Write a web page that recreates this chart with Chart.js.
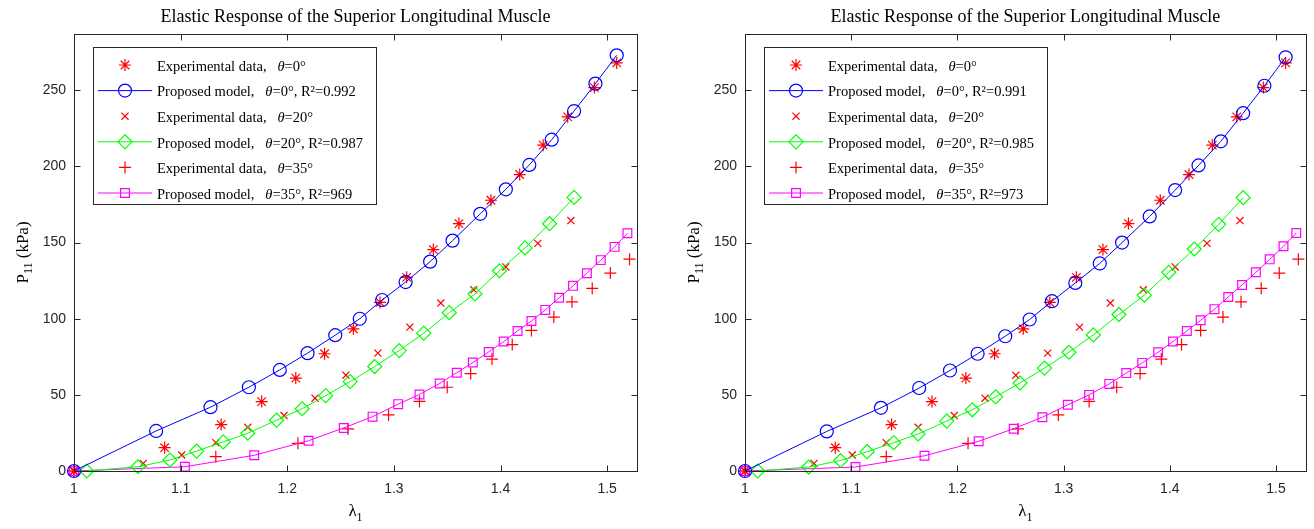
<!DOCTYPE html>
<html>
<head>
<meta charset="utf-8">
<title>Elastic Response of the Superior Longitudinal Muscle</title>
<script src="https://cdn.jsdelivr.net/npm/chart.js@4.4.0/dist/chart.umd.min.js"></script>
<style>
  html, body { margin: 0; padding: 0; background: #fff; }
  #wrap { position: relative; width: 1314px; height: 529px; }
  .panel { position: absolute; top: 0; height: 529px; }
</style>
</head>
<body>
<div id="wrap">
  <div class="panel" style="left:0;width:671px"><canvas id="chartLeft"></canvas></div>
  <div class="panel" style="left:671px;width:643px"><canvas id="chartRight"></canvas></div>
</div>
<script>
// dati: stiramento lambda_1 e tensione P_11 (kPa)
const TITLE = 'Elastic Response of the Superior Longitudinal Muscle';

// dati sperimentali (uguali nei due pannelli)
const lambdaExp0 = [1, 1.085, 1.138, 1.176, 1.208, 1.235, 1.262, 1.287, 1.312, 1.337, 1.361, 1.391, 1.418, 1.44, 1.463, 1.488, 1.509];
const pExp0 = [0, 15.3, 30.5, 45.6, 61, 77, 93.4, 110.7, 127.2, 145.4, 162.5, 177.8, 194.7, 214, 232.6, 251.8, 268];
const lambdaExp20 = [1, 1.065, 1.101, 1.133, 1.163, 1.197, 1.226, 1.255, 1.285, 1.315, 1.344, 1.375, 1.405, 1.435, 1.466];
const pExp20 = [0, 5, 10.5, 18.6, 28.7, 36.4, 47.8, 62.9, 77.4, 94.5, 110.3, 119, 134, 149.5, 164.5];
const lambdaExp35 = [1, 1.133, 1.21, 1.257, 1.295, 1.324, 1.35, 1.372, 1.392, 1.411, 1.429, 1.45, 1.467, 1.486, 1.503, 1.521];
const pExp35 = [0, 9.4, 18.2, 27.6, 36.8, 45.7, 55, 64, 73.5, 83, 92.3, 101.1, 111.1, 120, 130, 139.1];

// modello proposto
const lambdaMod0 = [1, 1.077, 1.128, 1.164, 1.193, 1.219, 1.245, 1.268, 1.289, 1.311, 1.334, 1.355, 1.381, 1.405, 1.427, 1.448, 1.469, 1.489, 1.509];
const pMod0Left = [0, 26.3, 41.9, 55, 66.4, 77.4, 89.2, 100, 112.3, 124.1, 137.5, 151.3, 168.9, 185, 201, 217.6, 236.4, 254.4, 273];
const pMod0Right = [0, 26, 41.5, 54.5, 66, 77, 88.5, 99.5, 111.5, 123.5, 136.3, 150, 167.2, 184.5, 200.7, 216.5, 235, 253, 271.7];
const lambdaMod20 = [1.012, 1.06, 1.09, 1.115, 1.14, 1.163, 1.19, 1.214, 1.236, 1.259, 1.282, 1.305, 1.328, 1.352, 1.376, 1.399, 1.423, 1.446, 1.469];
const pMod20Left = [0, 2.8, 7.2, 13.1, 19.1, 24.8, 33.4, 40.9, 49.5, 58.7, 68.6, 79.1, 90.5, 104, 116.3, 131.5, 146.5, 162.4, 179.7];
const pMod20Right = [0, 2.6, 6.9, 12.7, 18.6, 24.3, 32.8, 40.2, 48.7, 57.8, 67.6, 78, 89.4, 102.8, 115.5, 130.5, 145.8, 162, 179.5];
const lambdaMod35 = [1, 1.104, 1.169, 1.22, 1.253, 1.28, 1.304, 1.324, 1.343, 1.359, 1.374, 1.389, 1.403, 1.416, 1.429, 1.442, 1.455, 1.468, 1.481, 1.494, 1.507, 1.519];
const pMod35Left = [0, 2.8, 10.3, 19.9, 28.3, 35.7, 43.9, 50.3, 57.5, 64.5, 71.2, 78.2, 85, 92, 98.5, 105.8, 113.8, 121.6, 129.9, 138.5, 147.2, 156.1];
const pMod35Right = [0, 2.6, 10, 19.5, 27.8, 35.3, 43.5, 50, 57.2, 64.3, 71, 78, 85, 92, 99, 106.3, 114.3, 122.2, 130.5, 139, 147.6, 156.3];

// assi e legenda
const xTicks = [1, 1.1, 1.2, 1.3, 1.4, 1.5];
const yTicks = [0, 50, 100, 150, 200, 250];
const legendLeft = ['Experimental data,   θ=0°', 'Proposed model,   θ=0°, R²=0.992', 'Experimental data,   θ=20°',
                    'Proposed model,   θ=20°, R²=0.987', 'Experimental data,   θ=35°', 'Proposed model,   θ=35°, R²=969'];
const legendRight = ['Experimental data,   θ=0°', 'Proposed model,   θ=0°, R²=0.991', 'Experimental data,   θ=20°',
                     'Proposed model,   θ=20°, R²=0.985', 'Experimental data,   θ=35°', 'Proposed model,   θ=35°, R²=973'];

const AXIS_COLOR = '#262626';
const SERIF = '"Liberation Serif", "Times New Roman", serif';
const SANS = '"Liberation Sans", Arial, sans-serif';

function zip(xs, ys) {
    return xs.map((x, i) => ({ x: x, y: ys[i] }));
}

function makeDatasets(labels, mod0, mod20, mod35) {
    const exp = (label, xs, ys, style, r) => ({
        label: label, data: zip(xs, ys), showLine: false, pointStyle: style, pointRadius: r,
        borderColor: '#ff0000', backgroundColor: 'rgba(0,0,0,0)', pointBorderWidth: 1.2, clip: false, order: 2
    });
    const mod = (label, xs, ys, color, style, r) => ({
        label: label, data: zip(xs, ys), showLine: true, borderWidth: 1, tension: 0, pointStyle: style, pointRadius: r,
        borderColor: color, pointBorderColor: color, backgroundColor: 'rgba(0,0,0,0)', pointBackgroundColor: 'rgba(0,0,0,0)',
        pointBorderWidth: 1.2, clip: false, order: 1
    });
    return [
        exp(labels[0], lambdaExp0, pExp0, 'star', 6),
        mod(labels[1], lambdaMod0, mod0, '#0000ff', 'circle', 6.5),
        exp(labels[2], lambdaExp20, pExp20, 'crossRot', 5),
        mod(labels[3], lambdaMod20, mod20, '#00ff00', 'rectRot', 7),
        exp(labels[4], lambdaExp35, pExp35, 'cross', 6),
        mod(labels[5], lambdaMod35, mod35, '#ff00ff', 'rect', 6.2)
    ];
}

// cornice stile Matlab con tacche verso l'interno
const frame = {
    id: 'frame',
    afterDatasetsDraw(chart) {
        const ctx = chart.ctx, a = chart.chartArea, xs = chart.scales.x, ys = chart.scales.y;
        const L = Math.round(a.left) + 0.5, R = Math.round(a.right) + 0.5;
        const T = Math.round(a.top) + 0.5, B = Math.round(a.bottom) + 0.5;
        ctx.save();
        ctx.strokeStyle = AXIS_COLOR;
        ctx.lineWidth = 1;
        ctx.strokeRect(L, T, R - L, B - T);
        ctx.beginPath();
        xTicks.forEach(v => {
            const px = Math.round(xs.getPixelForValue(v)) + 0.5;
            ctx.moveTo(px, B); ctx.lineTo(px, B - 6);
            ctx.moveTo(px, T); ctx.lineTo(px, T + 6);
        });
        yTicks.forEach(v => {
            const py = Math.round(ys.getPixelForValue(v)) + 0.5;
            ctx.moveTo(L, py); ctx.lineTo(L + 6, py);
            ctx.moveTo(R, py); ctx.lineTo(R - 6, py);
        });
        ctx.stroke();
        ctx.restore();
    }
};

// testo con theta in corsivo
function drawRich(ctx, text, x, y, size) {
    const parts = text.split('θ');
    let cx = x;
    parts.forEach((p, i) => {
        if (i > 0) {
            ctx.font = 'italic ' + size + 'px ' + SERIF;
            ctx.fillText('θ', cx, y);
            cx += ctx.measureText('θ').width;
        }
        ctx.font = size + 'px ' + SERIF;
        ctx.fillText(p, cx, y);
        cx += ctx.measureText(p).width;
    });
}

// legenda, etichette degli assi
const extras = {
    id: 'extras',
    afterDraw(chart) {
        const ctx = chart.ctx, a = chart.chartArea;
        ctx.save();
        // legenda
        const bx = a.left + 19, by = a.top + 13, bw = 283, bh = 157;
        ctx.fillStyle = '#fff';
        ctx.fillRect(bx, by, bw, bh);
        ctx.strokeStyle = AXIS_COLOR;
        ctx.lineWidth = 1;
        ctx.strokeRect(Math.round(bx) + 0.5, Math.round(by) + 0.5, bw, bh);
        chart.data.datasets.forEach((ds, i) => {
            const ry = by + 18 + i * 25.6;
            const mx = bx + 32;
            ctx.strokeStyle = ds.borderColor;
            if (ds.showLine) {
                ctx.lineWidth = 1;
                ctx.beginPath();
                ctx.moveTo(bx + 5, ry); ctx.lineTo(bx + 59, ry);
                ctx.stroke();
            }
            ctx.lineWidth = 1.2;
            ctx.fillStyle = 'rgba(0,0,0,0)';
            Chart.helpers.drawPoint(ctx, { pointStyle: ds.pointStyle, radius: ds.pointRadius, rotation: 0, borderWidth: 1.2 }, mx, ry);
            ctx.fillStyle = '#000';
            ctx.textBaseline = 'middle';
            ctx.textAlign = 'left';
            drawRich(ctx, ds.label, bx + 64, ry + 2, 14.5);
        });
        // asse y: P_11 (kPa)
        ctx.fillStyle = '#000';
        ctx.save();
        ctx.translate(a.left - 50, (a.top + a.bottom) / 2);
        ctx.rotate(-Math.PI / 2);
        ctx.textBaseline = 'middle';
        ctx.textAlign = 'left';
        ctx.font = '17px ' + SERIF;
        const wP = ctx.measureText('P').width;
        ctx.font = '12px ' + SERIF;
        const w11 = ctx.measureText('11').width;
        ctx.font = '17px ' + SERIF;
        const wRest = ctx.measureText(' (kPa)').width;
        let sx = -(wP + w11 + wRest) / 2;
        ctx.fillText('P', sx, 0);
        sx += wP;
        ctx.font = '12px ' + SERIF;
        ctx.fillText('11', sx, 5);
        sx += w11;
        ctx.font = '17px ' + SERIF;
        ctx.fillText(' (kPa)', sx, 0);
        ctx.restore();
        // asse x: lambda_1
        ctx.textBaseline = 'middle';
        ctx.textAlign = 'left';
        ctx.font = '17px ' + SERIF;
        const wl = ctx.measureText('λ').width;
        ctx.font = '12px ' + SERIF;
        const w1 = ctx.measureText('1').width;
        const lx = (a.left + a.right) / 2 - (wl + w1) / 2;
        ctx.font = '17px ' + SERIF;
        ctx.fillText('λ', lx, a.bottom + 41);
        ctx.font = '12px ' + SERIF;
        ctx.fillText('1', lx + wl, a.bottom + 47);
        ctx.restore();
    }
};

function makeChart(id, labels, mod0, mod20, mod35, padRight) {
    const ctx = document.getElementById(id).getContext('2d');
    return new Chart(ctx, {
        type: 'scatter',
        data: { datasets: makeDatasets(labels, mod0, mod20, mod35) },
        options: {
            responsive: true,
            maintainAspectRatio: false,
            animation: false,
            layout: { padding: { left: 0, right: padRight, top: 0, bottom: 0 } },
            plugins: {
                legend: { display: false },
                tooltip: { enabled: false },
                title: {
                    display: true, text: TITLE, fullSize: false, color: '#000',
                    font: { family: SERIF, size: 18, weight: 'normal' },
                    padding: { top: 6.4, bottom: 6 }
                }
            },
            scales: {
                x: {
                    type: 'linear', min: 1, max: 1.528,
                    grid: { display: false, drawTicks: false },
                    border: { display: false },
                    ticks: {
                        stepSize: 0.1, includeBounds: false, autoSkip: false, maxRotation: 0, padding: 10,
                        color: AXIS_COLOR, font: { family: SANS, size: 14 },
                        callback: v => String(+v.toFixed(2))
                    },
                    afterFit: s => { s.height = 58; }
                },
                y: {
                    type: 'linear', min: 0, max: 287,
                    grid: { display: false, drawTicks: false },
                    border: { display: false },
                    ticks: {
                        stepSize: 50, includeBounds: false, padding: 8,
                        color: AXIS_COLOR, font: { family: SANS, size: 14 }
                    },
                    afterFit: s => { s.width = 74; }
                }
            }
        },
        plugins: [frame, extras]
    });
}

makeChart('chartLeft', legendLeft, pMod0Left, pMod20Left, pMod35Left, 34);
makeChart('chartRight', legendRight, pMod0Right, pMod20Right, pMod35Right, 7);
</script>
</body>
</html>
